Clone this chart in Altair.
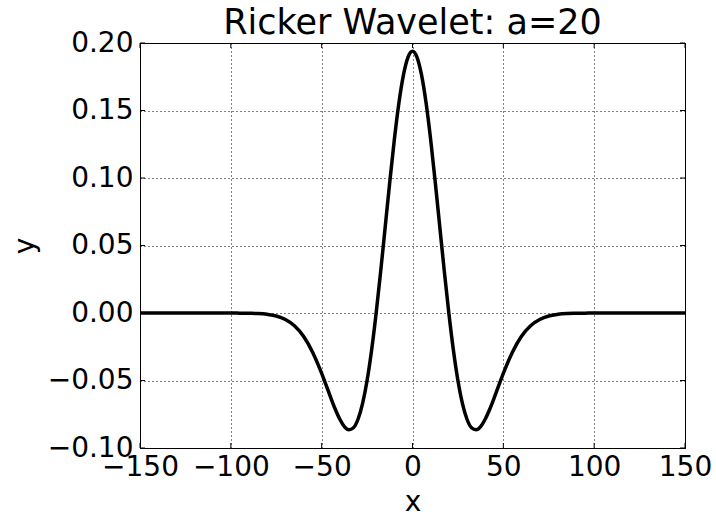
import altair as alt
import pandas as pd

x_vals = [-150, -120, -100, -95, -90, -85, -80, -75, -70, -65, -60, -55, -50,
          -47.5, -45, -42.5, -40, -37.5, -35, -32.5, -30, -27.5, -25, -22.5,
          -20, -17.5, -15, -12.5, -10, -7.5, -5, -2.5, 0,
          2.5, 5, 7.5, 10, 12.5, 15, 17.5, 20, 22.5, 25, 27.5, 30, 32.5, 35,
          37.5, 40, 42.5, 45, 47.5, 50, 55, 60, 65, 70, 75, 80, 85, 90, 95,
          100, 120, 150]
y_vals = [0.0, 0.0, 0.0, -0.0001, -0.0002, -0.0004, -0.0010, -0.0022, -0.0048,
          -0.0094, -0.0172, -0.0290, -0.0447,
          -0.0536, -0.0627, -0.0713, -0.0787, -0.0841, -0.0865, -0.0850, -0.0787,
          -0.0671, -0.0500, -0.0274,
          0.0, 0.0310, 0.0641, 0.0972, 0.1284, 0.1554, 0.1762, 0.1894, 0.1939,
          0.1894, 0.1762, 0.1554, 0.1284, 0.0972, 0.0641, 0.0310, 0.0, -0.0274,
          -0.0500, -0.0671, -0.0787, -0.0850, -0.0865,
          -0.0841, -0.0787, -0.0713, -0.0627, -0.0536, -0.0447, -0.0290, -0.0172,
          -0.0094, -0.0048, -0.0022, -0.0010, -0.0004, -0.0002, -0.0001,
          0.0, 0.0, 0.0]
x_ticks = [-150, -100, -50, 0, 50, 100, 150]
y_ticks = [-0.10, -0.05, 0.00, 0.05, 0.10, 0.15, 0.20]

df = pd.DataFrame({"x": x_vals, "y": y_vals})
df_xt = pd.DataFrame({"x": x_ticks})
df_yt = pd.DataFrame({"y": y_ticks})

FONT = "DejaVu Sans"
W, H = 545, 405
TL = 5  # inward tick length

common_axis = dict(
    labelExpr="replace(datum.label, '-', '\u2212')",
    labelFontSize=28, titleFontSize=28,
    labelFlush=False, labelOverlap=False, ticks=False, grid=True,
    gridColor="black", gridDash=[1, 3], gridWidth=1, gridOpacity=1,
    domainColor="black", domainWidth=1, labelColor="black", titleColor="black",
    labelFont=FONT, titleFont=FONT, titleFontWeight="normal",
)
x_axis = alt.Axis(values=x_ticks, format="d", title="x", labelPadding=5,
                  titlePadding=7, **common_axis)
y_axis = alt.Axis(values=y_ticks, format=".2f", title="y", labelPadding=7,
                  titlePadding=8, **common_axis)
x_scale = alt.Scale(domain=[-150, 150], nice=False, zero=False)
y_scale = alt.Scale(domain=[-0.10, 0.20], nice=False, zero=False)

line = alt.Chart(df).mark_line(color="black", strokeWidth=3.5, interpolate="monotone").encode(
    x=alt.X("x:Q", scale=x_scale, axis=x_axis),
    y=alt.Y("y:Q", scale=y_scale, axis=y_axis),
)

top_ticks = alt.Chart(df_xt).mark_rule(color="black", strokeWidth=1).encode(
    x=alt.X("x:Q", scale=x_scale, axis=x_axis), y=alt.value(0), y2=alt.value(TL))
bot_ticks = alt.Chart(df_xt).mark_rule(color="black", strokeWidth=1).encode(
    x=alt.X("x:Q", scale=x_scale, axis=x_axis), y=alt.value(H - TL), y2=alt.value(H))
left_ticks = alt.Chart(df_yt).mark_rule(color="black", strokeWidth=1).encode(
    y=alt.Y("y:Q", scale=y_scale, axis=y_axis), x=alt.value(0), x2=alt.value(TL))
right_ticks = alt.Chart(df_yt).mark_rule(color="black", strokeWidth=1).encode(
    y=alt.Y("y:Q", scale=y_scale, axis=y_axis), x=alt.value(W - TL), x2=alt.value(W))

chart = alt.layer(top_ticks, bot_ticks, left_ticks, right_ticks, line).properties(
    width=W, height=H,
    title=alt.TitleParams("Ricker Wavelet: a=20", fontSize=35, font=FONT,
                          fontWeight="normal", color="black", offset=0,
                          baseline="alphabetic", dy=40),
    autosize=alt.AutoSizeParams(type="none"),
    padding={"left": 140, "top": 43, "right": 31, "bottom": 67},
).configure_view(stroke="black", strokeWidth=1)

chart.save("out.html", embed_options={"renderer": "svg", "actions": False})
